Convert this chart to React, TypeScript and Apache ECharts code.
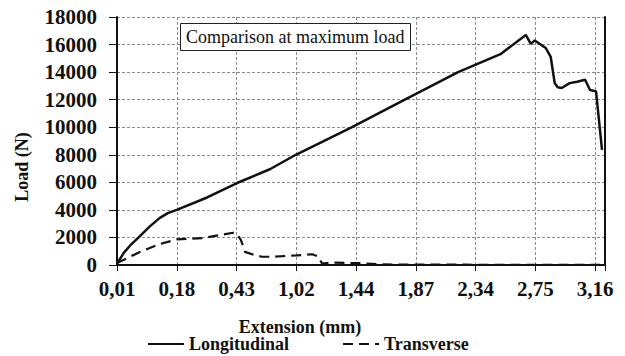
import React, { useEffect, useRef } from "react";
import * as echarts from "echarts";

// Extension tick labels (one every 12 data rows, as in the original line chart)
const xTickLabels = ["0,01", "0,18", "0,43", "1,02", "1,44", "1,87", "2,34", "2,75", "3,16"];
const rowsPerLabel = 12;
const lastRow = 98;

const yTicks = [0, 2000, 4000, 6000, 8000, 10000, 12000, 14000, 16000, 18000];

// Longitudinal: data row index and load (N)
const longRows = [0, 1.4, 2.6, 4.6, 6.6, 8.6, 10.2, 12, 18.1, 24.1, 30.7, 35.9, 47.2, 57.8, 68.5, 77, 82.1, 83.1, 83.9, 85.5, 86.1, 87.1, 87.9, 88.5, 89.3, 90.9, 92.4, 94, 95, 96.2, 97.4];
const longLoads = [100, 900, 1400, 2100, 2800, 3420, 3760, 4000, 4900, 5950, 6950, 8000, 10000, 12000, 14000, 15300, 16700, 16050, 16300, 15900, 15750, 15100, 13200, 12900, 12850, 13200, 13300, 13450, 12700, 12600, 8350];

// Transverse: data row index and load (N)
const transRows = [0, 4.6, 8.6, 12, 17.3, 20.7, 23.3, 24.1, 24.9, 25.7, 27.3, 29.1, 31.3, 36.1, 39.2, 40.4, 41.2, 42.8, 45.8, 48.8, 52.8, 56.8, 70, 85, 98];
const transLoads = [150, 940, 1520, 1860, 1960, 2180, 2340, 2250, 1800, 950, 760, 600, 600, 700, 780, 620, 100, 180, 150, 130, 60, 20, 20, 10, 10];

const SERIF = "'Liberation Serif', 'DejaVu Serif', serif";

export default function App() {
  const ref = useRef<HTMLDivElement>(null);
  useEffect(() => {
    if (!ref.current) return;
    const chart = echarts.init(ref.current, undefined, { renderer: "svg" });
    const grid = "#8a8a8a";
    chart.setOption({
      animation: false,
      backgroundColor: "#ffffff",
      textStyle: { fontFamily: SERIF },
      title: {
        text: "Comparison at maximum load",
        left: 180,
        top: 23,
        padding: [5, 6],
        borderWidth: 1,
        borderColor: "#222",
        backgroundColor: "#fff",
        textStyle: { fontFamily: SERIF, fontSize: 18, fontWeight: "normal", color: "#111" },
        z: 10,
      },
      grid: { left: 117, right: 20, top: 17, bottom: 91 },
      xAxis: {
        type: "value",
        min: 0,
        max: lastRow,
        interval: rowsPerLabel,
        axisLine: { show: true, onZero: false, lineStyle: { color: "#111", width: 2 } },
        axisTick: { show: true, length: 6, lineStyle: { color: "#111", width: 1 } },
        axisLabel: {
          margin: 13,
          fontFamily: SERIF,
          fontSize: 21,
          fontWeight: "bold",
          color: "#111",
          formatter: (v: number) => {
            const k = Math.round(v / rowsPerLabel);
            return Math.abs(v - k * rowsPerLabel) < 1e-6 && k < xTickLabels.length ? xTickLabels[k] : "";
          },
        },
        splitLine: { show: true, lineStyle: { color: grid, width: 1, type: [3, 2] } },
      },
      yAxis: [
        {
          type: "value",
          min: yTicks[0],
          max: yTicks[yTicks.length - 1],
          interval: yTicks[1] - yTicks[0],
          axisLine: { show: true, lineStyle: { color: "#111", width: 2 } },
          axisTick: { show: true, length: 8, lineStyle: { color: "#111", width: 1 } },
          axisLabel: {
            margin: 20,
            fontFamily: SERIF,
            fontSize: 21,
            fontWeight: "bold",
            color: "#111",
            formatter: (v: number) => String(v),
          },
          splitLine: { show: true, lineStyle: { color: grid, width: 1, type: [3, 2] } },
        },
        {
          type: "value",
          position: "right",
          min: yTicks[0],
          max: yTicks[yTicks.length - 1],
          interval: yTicks[1] - yTicks[0],
          axisLine: { show: true, lineStyle: { color: "#111", width: 2 } },
          axisTick: { show: false },
          axisLabel: { show: false },
          splitLine: { show: false },
        },
      ],
      legend: {
        left: 147,
        top: 335,
        padding: 0,
        itemWidth: 36,
        itemHeight: 14,
        itemGap: 53,
        itemStyle: { opacity: 0 },
        textStyle: { fontFamily: SERIF, fontSize: 18, fontWeight: "bold", color: "#111", lineHeight: 18 },
        data: ["Longitudinal", "Transverse"],
      },
      graphic: [
        {
          type: "text",
          x: 22,
          y: 167,
          rotation: Math.PI / 2,
          style: {
            text: "Load (N)",
            fontFamily: SERIF,
            fontSize: 18,
            fontWeight: "bold",
            fill: "#111",
            align: "center",
            verticalAlign: "middle",
          },
        },
        {
          type: "text",
          x: 300,
          y: 327,
          style: {
            text: "Extension (mm)",
            fontFamily: SERIF,
            fontSize: 18,
            fontWeight: "bold",
            fill: "#111",
            align: "center",
            verticalAlign: "middle",
          },
        },
      ],
      series: [
        {
          name: "Longitudinal",
          type: "line",
          symbol: "none",
          showSymbol: false,
          data: longRows.map((r, i) => [r, longLoads[i]]),
          lineStyle: { color: "#111", width: 2.5 },
          itemStyle: { color: "#111" },
        },
        {
          name: "Transverse",
          type: "line",
          symbol: "none",
          showSymbol: false,
          data: transRows.map((r, i) => [r, transLoads[i]]),
          lineStyle: { color: "#111", width: 2.2, type: [10, 6] },
          itemStyle: { color: "#111" },
        },
      ],
    });
    return () => chart.dispose();
  }, []);
  return <div ref={ref} style={{ position: "fixed", left: 0, top: 0, width: 625, height: 356 }} />;
}
